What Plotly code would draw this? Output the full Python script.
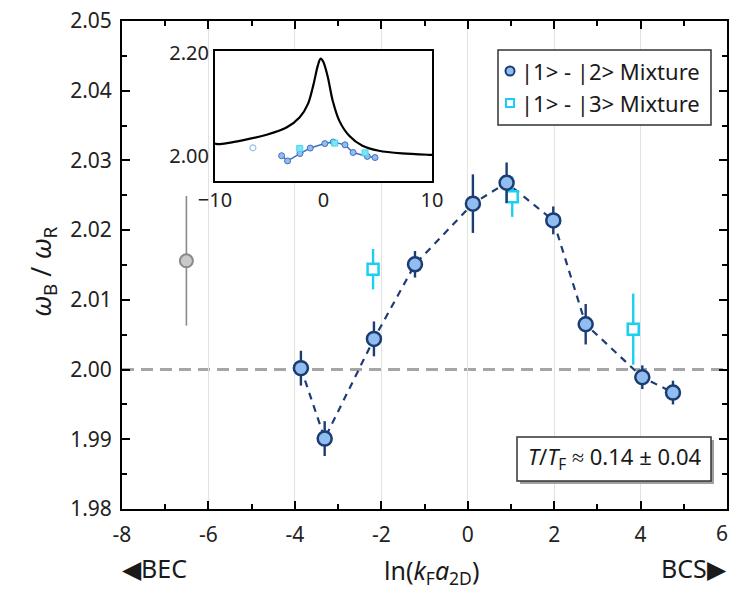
import plotly.graph_objects as go

# |1>-|2> mixture
x12 = [-3.86, -3.31, -2.17, -1.22, 0.12, 0.90, 1.98, 2.73, 4.04, 4.75]
y12 = [2.0002, 1.9901, 2.0044, 2.0151, 2.0238, 2.0268, 2.0214, 2.0065, 1.9989, 1.9967]
e12 = [0.0025, 0.0025, 0.0025, 0.0019, 0.0042, 0.0029, 0.0020, 0.0029, 0.0017, 0.0017]

# |1>-|3> mixture
x13 = [-2.19, 1.03, 3.83]
y13 = [2.0144, 2.0248, 2.0058]
e13 = [0.0029, 0.0029, 0.0051]

# isolated point on the BEC side
xg = [-6.51]
yg = [2.0156]
eg = [0.0093]

# theory curve shown in the inset
xt = [-10.0, -9.65, -7.37, -5.24, -3.41, -2.19, -1.43, -0.91, -0.52, -0.27, 0.0,
      0.40, 0.85, 1.46, 2.37, 3.59, 5.11, 7.24, 9.68, 10.0]
yt = [2.024, 2.0228, 2.0306, 2.041, 2.055, 2.075, 2.101, 2.140, 2.176, 2.189, 2.182,
      2.153, 2.107, 2.068, 2.039, 2.0195, 2.0098, 2.0046, 2.002, 2.0018]

xticks = [-8, -6, -4, -2, 0, 2, 4, 6]
yticks = [1.98, 1.99, 2.00, 2.01, 2.02, 2.03, 2.04, 2.05]

legend_labels = ["|1> - |2> Mixture", "|1> - |3> Mixture"]

FONT = "Noto Sans"
NAVY = "#1b3d73"
LIGHT = "#92bdf0"
CYAN = "#1ad0f0"
GREY = "#8a8a8a"
TXT = "#1a1a1a"

# plot area in pixels
L, R, T, B = 122, 727, 21, 509
W, H = 731, 592


def px(x):
    return (x - L) / (R - L)


def py(y):
    return 1 - (y - T) / (B - T)


fig = go.Figure()

# dashed guide through the |1>-|2> points
fig.add_trace(go.Scatter(x=x12, y=y12, mode="lines", showlegend=False,
                         line=dict(color=NAVY, width=2.2, dash="7px,6px"),
                         hoverinfo="skip"))

fig.add_trace(go.Scatter(x=xg, y=yg, mode="markers", showlegend=False,
                         error_y=dict(type="data", array=eg, color=GREY, thickness=1.6, width=0),
                         marker=dict(size=13, color="#c9c9c9", line=dict(color=GREY, width=2))))

fig.add_trace(go.Scatter(x=x13, y=y13, mode="markers", showlegend=False,
                         error_y=dict(type="data", array=e13, color=CYAN, thickness=2.4, width=0),
                         marker=dict(symbol="square", size=11, color="white",
                                     line=dict(color=CYAN, width=2.5))))

fig.add_trace(go.Scatter(x=x12, y=y12, mode="markers", showlegend=False,
                         error_y=dict(type="data", array=e12, color=NAVY, thickness=2.4, width=0),
                         marker=dict(size=14, color=LIGHT, line=dict(color=NAVY, width=2.5))))

# inset: theory curve with the same data
fig.add_trace(go.Scatter(x=xt, y=yt, xaxis="x2", yaxis="y2", mode="lines", showlegend=False,
                         line=dict(color="black", width=2.2, shape="spline", smoothing=0.8),
                         hoverinfo="skip"))
fig.add_trace(go.Scatter(x=x12, y=y12, xaxis="x2", yaxis="y2", mode="lines+markers",
                         showlegend=False,
                         line=dict(color="#3f6fbf", width=1.5),
                         marker=dict(size=6, color=LIGHT, line=dict(color="#3f6fbf", width=1))))
fig.add_trace(go.Scatter(x=x13, y=y13, xaxis="x2", yaxis="y2", mode="markers", showlegend=False,
                         marker=dict(symbol="square", size=6, color="#7fe3f5",
                                     line=dict(color="#3fd6f0", width=1))))
fig.add_trace(go.Scatter(x=xg, y=yg, xaxis="x2", yaxis="y2", mode="markers", showlegend=False,
                         marker=dict(symbol="circle-open", size=6, color="#9cc0e8",
                                     line=dict(width=1.2))))

ix0, ix1 = px(215), px(432)
iy0, iy1 = py(181), py(51)

shapes = [
    # opaque inset background
    dict(type="rect", xref="paper", yref="paper", x0=ix0, x1=ix1, y0=iy0, y1=iy1,
         fillcolor="white", line=dict(width=0), layer="between"),
    dict(type="line", xref="x2", yref="paper", x0=0, x1=0, y0=iy0, y1=iy1,
         line=dict(color="#8c8c8c", width=1.2), layer="between"),
    dict(type="line", xref="paper", yref="y2", x0=ix0, x1=ix1, y0=2.0, y1=2.0,
         line=dict(color="#8c8c8c", width=1.2), layer="between"),
    # reference level 2.00
    dict(type="line", xref="paper", yref="y", x0=0, x1=1, y0=2.0, y1=2.0,
         line=dict(color="#a6a6a6", width=3, dash="12px,7px"), layer="between"),
    # temperature label box with its shadow
    dict(type="rect", xref="paper", yref="paper",
         x0=px(520), x1=px(714), y0=py(484), y1=py(440),
         fillcolor="#a0a0a0", line=dict(width=0), layer="above"),
    dict(type="rect", xref="paper", yref="paper",
         x0=px(517), x1=px(711), y0=py(481), y1=py(437),
         fillcolor="white", line=dict(color="#333", width=1.5), layer="above"),
    # legend box
    dict(type="rect", xref="paper", yref="paper",
         x0=px(498), x1=px(711), y0=py(125), y1=py(50),
         fillcolor="white", line=dict(color="#333", width=1.5), layer="above"),
    # legend symbols
    dict(type="circle", xref="paper", yref="paper", xsizemode="pixel", ysizemode="pixel",
         xanchor=px(510), yanchor=py(71), x0=-4.5, x1=4.5, y0=-4.5, y1=4.5,
         fillcolor=LIGHT, line=dict(color=NAVY, width=2), layer="above"),
    dict(type="rect", xref="paper", yref="paper", xsizemode="pixel", ysizemode="pixel",
         xanchor=px(510), yanchor=py(103), x0=-4, x1=4, y0=-4, y1=4,
         fillcolor="white", line=dict(color=CYAN, width=2), layer="above"),
]

tickfont = dict(family=FONT, size=21, color="#222")

annotations = [
    dict(text="<i>T</i>/<i>T</i><sub>F</sub> ≈ 0.14 ± 0.04", xref="paper", yref="paper",
         x=px(615), y=py(458), xanchor="center", yanchor="middle",
         showarrow=False, font=dict(family=FONT, size=22, color=TXT)),
    dict(text=legend_labels[0], xref="paper", yref="paper", x=px(519), y=py(71),
         xanchor="left", yanchor="middle", showarrow=False,
         font=dict(family=FONT, size=22, color=TXT)),
    dict(text=legend_labels[1], xref="paper", yref="paper", x=px(519), y=py(103),
         xanchor="left", yanchor="middle", showarrow=False,
         font=dict(family=FONT, size=22, color=TXT)),
    dict(text="ln(<i>k</i><sub>F</sub><i>a</i><sub>2D</sub>)", xref="paper", yref="paper",
         x=px(431), y=py(571), xanchor="center", yanchor="middle",
         showarrow=False, font=dict(family=FONT, size=25, color=TXT)),
    dict(text="◀BEC", xref="paper", yref="paper", x=px(120), y=py(568),
         xanchor="left", yanchor="middle", showarrow=False,
         font=dict(family=FONT, size=25, color=TXT)),
    dict(text="BCS▶", xref="paper", yref="paper", x=px(729), y=py(568),
         xanchor="right", yanchor="middle", showarrow=False,
         font=dict(family=FONT, size=25, color=TXT)),
    dict(text="<i>ω</i><sub>B</sub> / <i>ω</i><sub>R</sub>", xref="paper", yref="paper",
         x=px(42), y=py(272), xanchor="center", yanchor="middle",
         textangle=-90, showarrow=False, font=dict(family=FONT, size=27, color=TXT)),
    # last x tick label, kept inside the page edge
    dict(text=str(xticks[-1]), xref="paper", yref="paper", x=px(730), y=py(533),
         xanchor="right", yanchor="middle", showarrow=False, font=tickfont),
]

axis_common = dict(showline=True, linecolor="black", linewidth=2, mirror="ticks",
                   ticks="inside", tickcolor="black", tickwidth=2, ticklen=8,
                   zeroline=False, automargin=False, tickfont=tickfont)

fig.update_layout(
    width=W, height=592,
    margin=dict(l=L, r=W - R, t=T, b=592 - B),
    paper_bgcolor="white", plot_bgcolor="white",
    showlegend=False,
    xaxis=dict(range=[-8, 6], tickvals=xticks,
               ticktext=[str(v) for v in xticks[:-1]] + [""],
               showgrid=True, gridcolor="#e2e2e2", gridwidth=1, ticklabelstandoff=6,
               minor=dict(dtick=1, ticks="inside", ticklen=5, tickwidth=2, tickcolor="black",
                          showgrid=False),
               **axis_common),
    yaxis=dict(range=[1.98, 2.05], tickvals=yticks, ticktext=[f"{v:.2f}" for v in yticks],
               showgrid=False, ticklabelstandoff=4,
               minor=dict(dtick=0.005, tick0=1.98, ticks="inside", ticklen=5, tickwidth=2,
                          tickcolor="black", showgrid=False),
               **axis_common),
    xaxis2=dict(domain=[ix0, ix1], anchor="y2", range=[-10, 10], tickvals=[-10, 0, 10],
                showline=True, linecolor="black", linewidth=2, mirror=True, ticks="",
                showgrid=False, zeroline=False, automargin=False,
                tickfont=dict(family=FONT, size=20, color="#222")),
    yaxis2=dict(domain=[iy0, iy1], anchor="x2", range=[1.951, 2.204], tickvals=[2.0, 2.2],
                ticktext=["2.00", "2.20"], automargin=False,
                showline=True, linecolor="black", linewidth=2, mirror=True, ticks="",
                showgrid=False, zeroline=False,
                tickfont=dict(family=FONT, size=20, color="#222")),
    shapes=shapes,
    annotations=annotations,
)

fig.write_html("out.html")
